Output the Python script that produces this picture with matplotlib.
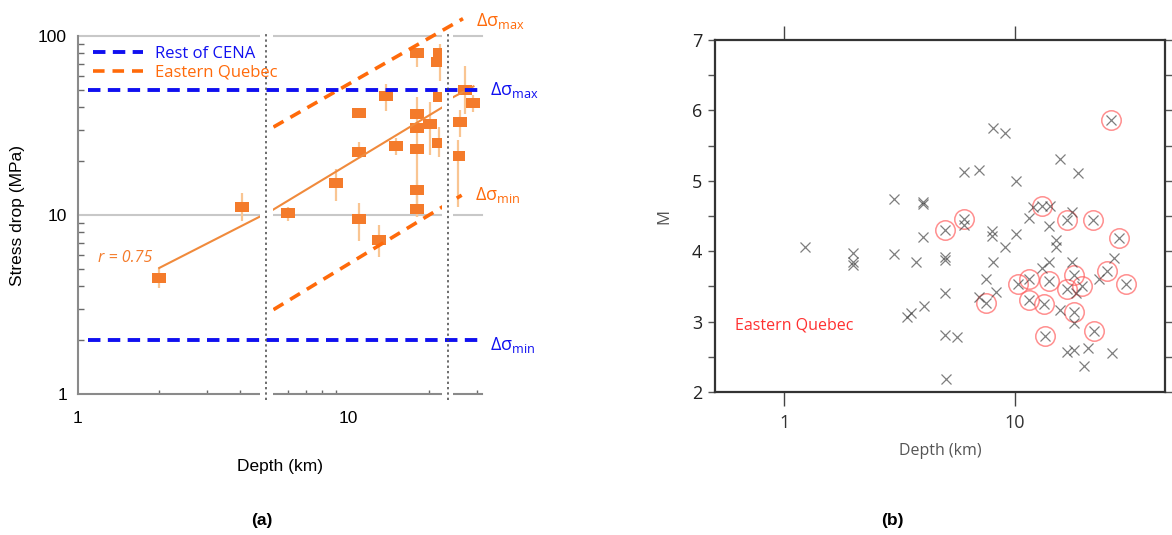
import matplotlib
matplotlib.use("Agg")
import matplotlib.pyplot as plt
from matplotlib.lines import Line2D
from matplotlib.ticker import FixedLocator, NullFormatter, NullLocator

# ---------------- Panel (a) data ----------------
depth_a = [2.0, 4.04, 6.0, 9.0, 10.95, 10.95, 10.95, 13.06, 13.9, 15.06,
           18.06, 18.06, 18.06, 18.06, 18.06, 18.06, 20.1, 21.7, 22.0, 21.6,
           21.9, 26.0, 25.5, 27.1, 29.1]
stress = [4.45, 11.1, 10.3, 15.0, 9.46, 22.5, 37.3, 7.26, 46.2, 24.2,
          80, 36.9, 30.8, 23.3, 13.8, 10.8, 32.1, 25.4, 80, 72,
          45.5, 33.1, 21.3, 49.7, 42.2]
stress_lo = [3.9, 9.2, 9.2, 12.0, 7.2, 20.7, 37.3, 5.8, 38, 21.6,
             66.7, 36.9, 30.8, 9.8, 13.8, 9.8, 21.6, 21.2, 56, 72,
             45.5, 27.3, 11.1, 36.9, 37.6]
stress_hi = [5.05, 13.2, 11.1, 18.1, 11.6, 25.6, 37.3, 8.8, 54, 26.8,
             85, 36.9, 30.8, 45.6, 13.8, 15.6, 42.8, 31, 90.5, 72,
             45.5, 38.6, 26.1, 68.3, 46.6]

fit_x = [[2.0, 4.72], [5.28, 22.3], [24.0, 29.2]]
fit_y = [[5.06, 9.8], [10.7, 39.8], [44.7, 52.3]]
upper_x, upper_y = [5.3, 26.7], [31.0, 125.0]
lower_x, lower_y = [5.3, 26.4], [2.96, 12.9]
cena_max, cena_min = 50, 2
breaks = [(4.72, 5.28), (22.3, 24.5)]
break_lines = [4.97, 23.5]

# ---------------- Panel (b) data ----------------
quake_depth = [1.23, 1.98, 1.98, 1.98, 2.99, 2.99, 4.0, 4.0, 4.0, 3.74, 4.03, 3.55, 3.40,
               5.0, 5.0, 5.0, 5.0, 5.04, 5.63, 6.0, 6.0, 7.0, 8.05, 9.05, 8.0, 8.0,
               10.1, 9.05, 8.05, 7.5, 8.27, 7.0, 10.1, 15.8, 18.8, 12.0, 14.2, 11.5,
               17.8, 14.1, 15.1, 15.1, 13.1, 14.1, 17.8, 18.4, 15.8, 18.2, 23.3,
               26.9, 16.9, 18.2, 20.8, 26.6, 20.0]
quake_mag = [4.06, 3.98, 3.85, 3.80, 4.74, 3.96, 4.70, 4.67, 4.20, 3.85, 3.22, 3.12, 3.06,
             3.92, 3.87, 3.41, 2.81, 2.19, 2.78, 5.12, 4.37, 5.16, 5.75, 5.68, 4.28, 4.21,
             4.25, 4.06, 3.84, 3.60, 3.42, 3.35, 5.0, 5.31, 5.11, 4.63, 4.64, 4.47,
             4.56, 4.36, 4.16, 4.06, 3.76, 3.85, 3.84, 3.41, 3.17, 2.98, 3.61,
             3.90, 2.57, 2.60, 2.62, 2.56, 2.37]
eq_depth = [26.3, 13.1, 16.9, 21.9, 6.0, 5.0, 28.4, 18.2, 16.9, 19.7, 25.1, 30.4,
            10.3, 11.5, 14.1, 7.5, 11.5, 13.4, 18.2, 22.1, 13.6]
eq_mag = [5.86, 4.64, 4.44, 4.45, 4.46, 4.30, 4.19, 3.66, 3.47, 3.51, 3.72, 3.53,
          3.53, 3.60, 3.58, 3.27, 3.31, 3.25, 3.13, 2.87, 2.79]

ORANGE = '#F47B2B'
ORANGE_D = '#FF6A0A'
ERR_C = '#F9C592'
BLUE = '#1010F0'

fig = plt.figure(figsize=(11.72, 5.35), dpi=100)

# ================= Panel (a) =================
ax = fig.add_axes([78/1172, 1-394/535, 404/1172, 358/535])
ax.set_xscale('log'); ax.set_yscale('log')
ax.set_xlim(1, 31.4); ax.set_ylim(1, 100)
for s in ['top', 'right']:
    ax.spines[s].set_visible(False)
for s in ['left', 'bottom']:
    ax.spines[s].set_color('#8a8a8a'); ax.spines[s].set_linewidth(1.5)

for g in [10, 100]:
    ax.axhline(g, color='#c8c8c8', lw=1.5, zorder=1, clip_on=False)

yerr = [[s - l for s, l in zip(stress, stress_lo)], [h - s for s, h in zip(stress, stress_hi)]]
ax.errorbar(depth_a, stress, yerr=yerr, fmt='none', ecolor=ERR_C, elinewidth=1.6, zorder=1.5)
rect = [(-1.35, -1), (1.35, -1), (1.35, 1), (-1.35, 1), (-1.35, -1)]
ax.plot(depth_a, stress, linestyle='none', marker=rect, markersize=9.5,
        color=ORANGE, markeredgewidth=0, zorder=2)

for fx, fy in zip(fit_x, fit_y):
    ax.plot(fx, fy, color='#F08A3C', lw=1.5, zorder=2.1)
ax.plot(upper_x, upper_y, color=ORANGE_D, lw=2.6, dashes=(3.2, 2.2), zorder=2.2, clip_on=False)
ax.plot(lower_x, lower_y, color=ORANGE_D, lw=2.6, dashes=(3.2, 2.2), zorder=2.2)

for b0, b1 in breaks:
    r = ax.axvspan(b0, b1, ymin=-0.03, ymax=1.012, color='white', zorder=3, lw=0)
    r.set_clip_on(False)

for v in [cena_max, cena_min]:
    ax.axhline(v, xmin=0.025, xmax=0.995, color=BLUE, lw=2.8, dashes=(3.2, 1.9), zorder=4)

for bl in break_lines:
    ax.plot([bl, bl], [0.93, 103], color='#444444', lw=1.1, linestyle=(0, (1.5, 2.0)),
            zorder=5, clip_on=False)

ax.xaxis.set_major_locator(FixedLocator([1, 10]))
ax.xaxis.set_minor_locator(FixedLocator([2, 3, 4, 6, 7, 8, 9, 20, 30]))
ax.xaxis.set_minor_formatter(NullFormatter())
ax.set_xticklabels(['1', '10'])
ax.yaxis.set_major_locator(FixedLocator([1, 10, 100]))
ax.yaxis.set_minor_locator(FixedLocator([2, 3, 4, 5, 6, 7, 8, 9, 20, 30, 40, 50, 60, 70, 80, 90]))
ax.yaxis.set_minor_formatter(NullFormatter())
ax.set_yticklabels(['1', '10', '100'])
ax.tick_params(axis='both', which='both', direction='in', color='#6a6a6a', width=1.0,
               labelsize=12.5, labelcolor='black')
ax.tick_params(axis='x', which='major', length=0, pad=12)
ax.tick_params(axis='x', which='minor', length=3)
ax.tick_params(axis='y', which='major', length=0, pad=8)
ax.tick_params(axis='y', which='minor', length=4)
for lab in ax.get_xticklabels() + ax.get_yticklabels():
    lab.set_family(['Liberation Sans', 'DejaVu Sans'])

ax.set_xlabel('Depth (km)', fontsize=12.5, family=['Liberation Sans', 'DejaVu Sans'], labelpad=24)
ax.set_ylabel('Stress drop (MPa)', fontsize=12.5, family=['Liberation Sans', 'DejaVu Sans'], labelpad=9)

handles = [Line2D([], [], color=BLUE, lw=2.8, dashes=(3.2, 1.9)),
           Line2D([], [], color=ORANGE_D, lw=2.6, dashes=(3.2, 2.2))]
leg = ax.legend(handles, ['Rest of CENA', 'Eastern Quebec'], loc='upper left',
                bbox_to_anchor=(0.008, 1.005), frameon=False, handlelength=3.0,
                handletextpad=0.7, labelspacing=0.15, borderaxespad=0.3,
                prop={'family': ['Open Sans', 'DejaVu Sans'], 'size': 12})
for t, c in zip(leg.get_texts(), [BLUE, ORANGE_D]):
    t.set_color(c)

lf = ['Open Sans', 'DejaVu Sans']
ax.text(29.8, 122, r'Δσ$_{\mathregular{max}}$', color=ORANGE_D, fontsize=13, va='center',
        family=lf, clip_on=False)
ax.text(29.6, 12.9, r'Δσ$_{\mathregular{min}}$', color=ORANGE_D, fontsize=13, va='center',
        family=lf, clip_on=False)
ax.text(33.6, cena_max, r'Δσ$_{\mathregular{max}}$', color=BLUE, fontsize=13, va='center',
        family=lf, clip_on=False)
ax.text(33.6, 1.88, r'Δσ$_{\mathregular{min}}$', color=BLUE, fontsize=13, va='center',
        family=lf, clip_on=False)
ax.text(1.19, 5.76, 'r = 0.75', color=ORANGE, fontsize=11.5, style='italic', va='center',
        family=lf)

fig.text(262/1172, 1-520/535, '(a)', ha='center', va='center', fontsize=12.5, weight='bold',
         family=['Liberation Sans', 'DejaVu Sans'])

# ================= Panel (b) =================
bx = fig.add_axes([715/1172, 1-392/535, 450/1172, 352/535])
bx.set_xscale('log')
bx.set_xlim(0.5, 45); bx.set_ylim(2, 7)
for s in bx.spines.values():
    s.set_color('#333333'); s.set_linewidth(1.6)

bx.plot(quake_depth + eq_depth, quake_mag + eq_mag, linestyle='none', marker='x',
        markersize=7, markeredgewidth=0.9, color='#3a3a3a', alpha=0.65, zorder=3)
bx.plot(eq_depth, eq_mag, linestyle='none', marker='o', markersize=14, markerfacecolor='none',
        markeredgecolor='#ff6060', markeredgewidth=1.1, alpha=0.7, zorder=2)

bx.xaxis.set_major_locator(FixedLocator([1, 10]))
bx.xaxis.set_minor_locator(NullLocator())
bx.set_xticklabels(['1', '10'])
bx.yaxis.set_major_locator(FixedLocator([2, 3, 4, 5, 6, 7]))
bx.yaxis.set_minor_locator(FixedLocator([2.5, 3.5, 4.5, 5.5, 6.5]))
bx.tick_params(axis='x', which='major', direction='out', length=10, width=1.0, color='#444444',
               top=True, labelsize=13, labelcolor='#333333', pad=6)
bx.tick_params(axis='y', which='both', direction='out', length=5, width=1.0, color='#555555',
               right=True, labelsize=13, labelcolor='#222222', pad=4)
for lab in bx.get_xticklabels() + bx.get_yticklabels():
    lab.set_family(['Open Sans', 'DejaVu Sans'])

bx.set_xlabel('Depth (km)', fontsize=11.5, color='#555555', family=lf, labelpad=8)
bx.set_ylabel('M', fontsize=12, color='#555555', family=lf, labelpad=14)
bx.text(0.045, 0.19, 'Eastern Quebec', transform=bx.transAxes, color='#ff3030', fontsize=11.5,
        va='center', family=lf)

fig.text(892/1172, 1-520/535, '(b)', ha='center', va='center', fontsize=12.5, weight='bold',
         family=['Liberation Sans', 'DejaVu Sans'])

fig.savefig('out.png', dpi=100)
